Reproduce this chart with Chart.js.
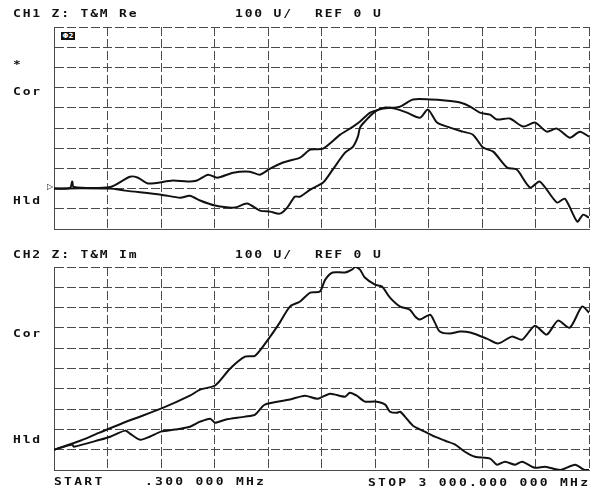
<!DOCTYPE html>
<html>
<head>
<meta charset="utf-8">
<script src="https://cdn.jsdelivr.net/npm/chart.js@4.4.0/dist/chart.umd.min.js"></script>
<style>
body { margin: 0; background: #fff; }
#wrap { position: relative; width: 591px; height: 494px; overflow: hidden; background: #fff; }
canvas { position: absolute; left: 0; }
.lbl { position: absolute; font-family: "DejaVu Sans Mono", monospace; font-size: 10px; font-weight: bold; line-height: 14px;
       letter-spacing: 1.4px; color: #111; white-space: pre; transform: scaleX(1.3); transform-origin: 0 50%; }
.lbl.wide { letter-spacing: 1.75px; }
.mk { position: absolute; left: 61px; top: 32px; width: 14px; height: 8px; background: #111; color: #fff;
      font: bold 7px "DejaVu Sans", sans-serif; line-height: 8px; text-align: center; }
.ref { position: absolute; left: 47px; top: 182px; font: 8px "DejaVu Sans", sans-serif; color: #111; }
</style>
</head>
<body>
<div id="wrap">
  <canvas id="ch1" width="591" height="247" style="top:0"></canvas>
  <canvas id="ch2" width="591" height="247" style="top:247px"></canvas>

  <div class="lbl" style="left:13px;top:7px">CH1 Z: T&amp;M Re</div>
  <div class="lbl" style="left:235px;top:7px">100 U/</div>
  <div class="lbl" style="left:315px;top:7px">REF 0 U</div>
  <div class="mk">Φ2</div>
  <div class="lbl" style="left:13px;top:58px">*</div>
  <div class="lbl" style="left:13px;top:85px">Cor</div>
  <div class="lbl" style="left:13px;top:194px">Hld</div>
  <div class="ref">▷</div>

  <div class="lbl" style="left:13px;top:248px">CH2 Z: T&amp;M Im</div>
  <div class="lbl" style="left:235px;top:248px">100 U/</div>
  <div class="lbl" style="left:315px;top:248px">REF 0 U</div>
  <div class="lbl" style="left:13px;top:327px">Cor</div>
  <div class="lbl" style="left:13px;top:433px">Hld</div>

  <div class="lbl wide" style="left:54px;top:475px">START</div>
  <div class="lbl wide" style="left:145px;top:475px">.300 000 MHz</div>
  <div class="lbl wide" style="left:368px;top:476px">STOP 3 000.000 000 MHz</div>
</div>

<script>
// sweep: .3 MHz to 3000 MHz, 10 divisions
const startMHz = 0.3;
const stopMHz = 3000;
const freqStep = 300;
const unitsPerDiv = 100;

// CH1 Z: T&M Re  (units)
const ch1FreqA = [0.3, 90, 102, 111, 315, 426, 471, 528, 666, 747, 801, 864, 915, 1005, 1098, 1155, 1212, 1284, 1323, 1380,
    1437, 1509, 1605, 1677, 1716, 1773, 1845, 1941, 2013, 2109, 2193, 2277, 2334, 2388, 2445, 2484, 2556, 2631, 2697, 2763,
    2820, 2892, 2949, 3000];
const ch1ReA = [0, 3, 35, 8, 8, 59, 54, 25, 40, 35, 40, 69, 54, 79, 84, 69, 99, 129, 139, 153,
    193, 198, 267, 307, 332, 376, 396, 406, 441, 441, 436, 426, 406, 376, 366, 342, 347, 307, 327, 282,
    297, 252, 282, 257];

const ch1FreqB = [0.3, 147, 315, 399, 600, 708, 762, 819, 903, 1014, 1083, 1155, 1212, 1266, 1308, 1350, 1380, 1437, 1509, 1563,
    1632, 1677, 1704, 1716, 1743, 1800, 1857, 1911, 1980, 2052, 2097, 2148, 2220, 2292, 2349, 2406, 2463, 2541, 2595, 2670,
    2724, 2820, 2865, 2934, 2967, 3000];
const ch1ReB = [0, 2, 0, -10, -30, -45, -35, -59, -84, -94, -74, -109, -114, -124, -94, -40, -40, -5, 30, 94,
    178, 208, 257, 302, 332, 381, 401, 396, 376, 351, 391, 327, 302, 282, 267, 203, 183, 104, 94, 5,
    35, -69, -50, -163, -129, -144];

// CH2 Z: T&M Im  (units)
const ch2FreqA = [0.3, 147, 258, 426, 600, 762, 819, 903, 987, 1071, 1128, 1212, 1266, 1323, 1380, 1437, 1491, 1521, 1563, 1632,
    1671, 1689, 1716, 1743, 1800, 1839, 1884, 1941, 1995, 2025, 2052, 2109, 2136, 2163, 2220, 2277, 2334, 2427, 2490, 2568,
    2625, 2697, 2763, 2826, 2892, 2961, 3000];
const ch2ImA = [0, 44, 85, 145, 202, 266, 296, 316, 399, 458, 463, 557, 626, 705, 730, 774, 779, 838, 873, 873,
    887, 902, 887, 848, 813, 804, 749, 705, 690, 656, 641, 665, 626, 582, 572, 582, 577, 547, 523, 557,
    542, 611, 567, 636, 601, 705, 675];

const ch2FreqB = [0.3, 102, 111, 258, 315, 399, 426, 483, 537, 600, 678, 762, 819, 876, 903, 960, 1071, 1128, 1182, 1323,
    1407, 1479, 1548, 1632, 1659, 1698, 1743, 1800, 1857, 1884, 1923, 1941, 1968, 2013, 2079, 2136, 2193, 2250, 2304, 2361,
    2445, 2484, 2529, 2586, 2625, 2697, 2754, 2838, 2922, 2973, 3000];
const ch2ImB = [0, 25, 15, 49, 64, 94, 79, 49, 64, 89, 99, 113, 138, 153, 133, 148, 163, 173, 222, 247,
    266, 251, 276, 261, 281, 266, 237, 237, 222, 187, 182, 187, 163, 118, 89, 64, 44, 25, -10, -35,
    -44, -74, -59, -74, -59, -89, -84, -100, -74, -99, -100];

function toPoints(xs, ys) {
    return xs.map((x, i) => ({ x: x, y: ys[i] }));
}

function trace(xs, ys) {
    return {
        data: toPoints(xs, ys),
        borderColor: '#111',
        borderWidth: 2,
        pointRadius: 0,
        tension: 0.25,
        fill: false
    };
}

function gridAxis(min, max, step) {
    return {
        type: 'linear',
        min: min,
        max: max,
        ticks: { display: false, stepSize: step },
        grid: { color: '#4a4a4a', lineWidth: 1, drawTicks: false },
        border: { display: true, color: '#4a4a4a', dash: [9, 3] }
    };
}

function makeChart(id, datasets, yMin, yMax, pad) {
    return new Chart(document.getElementById(id).getContext('2d'), {
        type: 'line',
        data: { datasets: datasets },
        options: {
            responsive: false,
            animation: false,
            devicePixelRatio: 1,
            layout: { padding: pad },
            plugins: { legend: { display: false }, tooltip: { enabled: false } },
            scales: {
                x: gridAxis(0, stopMHz, freqStep),
                y: gridAxis(yMin, yMax, unitsPerDiv)
            }
        }
    });
}

// CH1: ref 0 U two divisions above bottom
makeChart('ch1', [trace(ch1FreqA, ch1ReA), trace(ch1FreqB, ch1ReB)], -200, 800,
    { left: 54, right: 2, top: 27, bottom: 18 });

// CH2: ref 0 U one division above bottom
makeChart('ch2', [trace(ch2FreqA, ch2ImA), trace(ch2FreqB, ch2ImB)], -100, 900,
    { left: 54, right: 2, top: 20, bottom: 24 });
</script>
</body>
</html>
